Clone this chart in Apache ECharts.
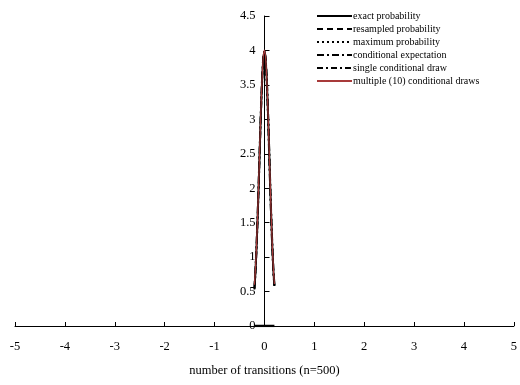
<!DOCTYPE html>
<html><head><meta charset="utf-8">
<script src="https://cdn.jsdelivr.net/npm/echarts@6/dist/echarts.min.js"></script>
<style>html,body{margin:0;padding:0;background:#fff}#c{width:520px;height:385px}</style>
</head><body><div id="c"></div>
<script>
var xs = [-0.2,-0.18,-0.16,-0.14,-0.12,-0.1,-0.08,-0.06,-0.04,-0.02,0,0.02,0.04,0.06,0.08,0.1,0.12,0.14,0.16,0.18,0.2];
var exactP     = [0.54,0.79,1.11,1.50,1.94,2.42,2.90,3.33,3.68,3.91,3.99,3.91,3.68,3.33,2.90,2.42,1.94,1.50,1.11,0.79,0.58];
var resampledP = [0.56,0.80,1.13,1.52,1.96,2.44,2.92,3.35,3.70,3.93,4.00,3.92,3.69,3.32,2.88,2.40,1.92,1.48,1.10,0.80,0.60];
var maxP       = [0.53,0.78,1.10,1.49,1.93,2.41,2.89,3.32,3.67,3.90,3.98,3.90,3.67,3.32,2.91,2.43,1.95,1.51,1.12,0.78,0.57];
var condExp    = [0.55,0.79,1.12,1.51,1.95,2.43,2.91,3.34,3.69,3.92,3.99,3.91,3.68,3.34,2.90,2.41,1.93,1.49,1.11,0.79,0.59];
var singleDraw = [0.58,0.82,1.08,1.55,1.90,2.46,2.86,3.38,3.62,3.95,4.02,3.88,3.72,3.28,2.94,2.37,1.98,1.45,1.15,0.76,0.62];
var multiDraw  = [0.60,0.83,1.14,1.53,1.97,2.45,2.93,3.36,3.71,3.94,4.01,3.93,3.70,3.35,2.92,2.44,1.96,1.52,1.13,0.81,0.61];
var baseX = [-0.2, 0.2];
var baseY = [0, 0];
var names = ['exact probability','resampled probability','maximum probability','conditional expectation','single conditional draw','multiple (10) conditional draws'];

function pairs(x, y){ return x.map(function(v,i){return [v,y[i]];}); }
var font = 'Liberation Serif';
var chart = echarts.init(document.getElementById('c'));
var styles = [
  {color:'#000', width:2, type:'solid'},
  {color:'#000', width:1, type:[6,4]},
  {color:'#000', width:1.8, type:[2,3]},
  {color:'#000', width:2.2, type:[7,3,2,3]},
  {color:'#000', width:1, type:[6,3,2,3]},
  {color:'#a83a3a', width:1.2, type:'solid'}
];
var dataSets = [exactP, resampledP, maxP, condExp, singleDraw, multiDraw];
var series = dataSets.map(function(d,i){
  return {name:names[i], type:'line', data:pairs(xs,d), showSymbol:false, symbol:'none',
    lineStyle:{color:styles[i].color, width:styles[i].width, type:styles[i].type},
    itemStyle:{color:styles[i].color}, z: 2 + i, animation:false};
});
series.push({name:'base', type:'line', data:pairs(baseX, baseY), symbol:'none', lineStyle:{color:'#000', width:2.5}, animation:false, z:20});
chart.setOption({
  animation:false,
  grid:{left:15, right:6, top:16, bottom:59, containLabel:false},
  legend:{data:names, orient:'vertical', left:311, top:6, itemWidth:35, itemHeight:10, itemGap:3,
    itemStyle:{color:'transparent', borderColor:'transparent', borderWidth:0},
    textStyle:{fontFamily:font, fontSize:10, color:'#000', padding:[0,0,0,-4]}, selectedMode:false},
  xAxis:{type:'value', min:-5, max:5, interval:1,
    name:'number of transitions (n=500)', nameLocation:'middle', nameGap:38,
    nameTextStyle:{fontFamily:font, fontSize:12.5, color:'#000'},
    axisLine:{onZero:false, lineStyle:{color:'#000', width:1}},
    axisTick:{inside:true, length:4, lineStyle:{color:'#000'}},
    axisLabel:{fontFamily:font, fontSize:12.5, color:'#000', margin:14,
      formatter:function(v){return String(v);}},
    splitLine:{show:false}},
  yAxis:{type:'value', min:0, max:4.5, interval:0.5, offset:-249.5,
    axisLine:{onZero:false, lineStyle:{color:'#000', width:1}},
    axisTick:{inside:true, length:5, lineStyle:{color:'#000'}},
    axisLabel:{fontFamily:font, fontSize:12.5, color:'#000', margin:9},
    splitLine:{show:false}},
  series:series
});
</script></body></html>
